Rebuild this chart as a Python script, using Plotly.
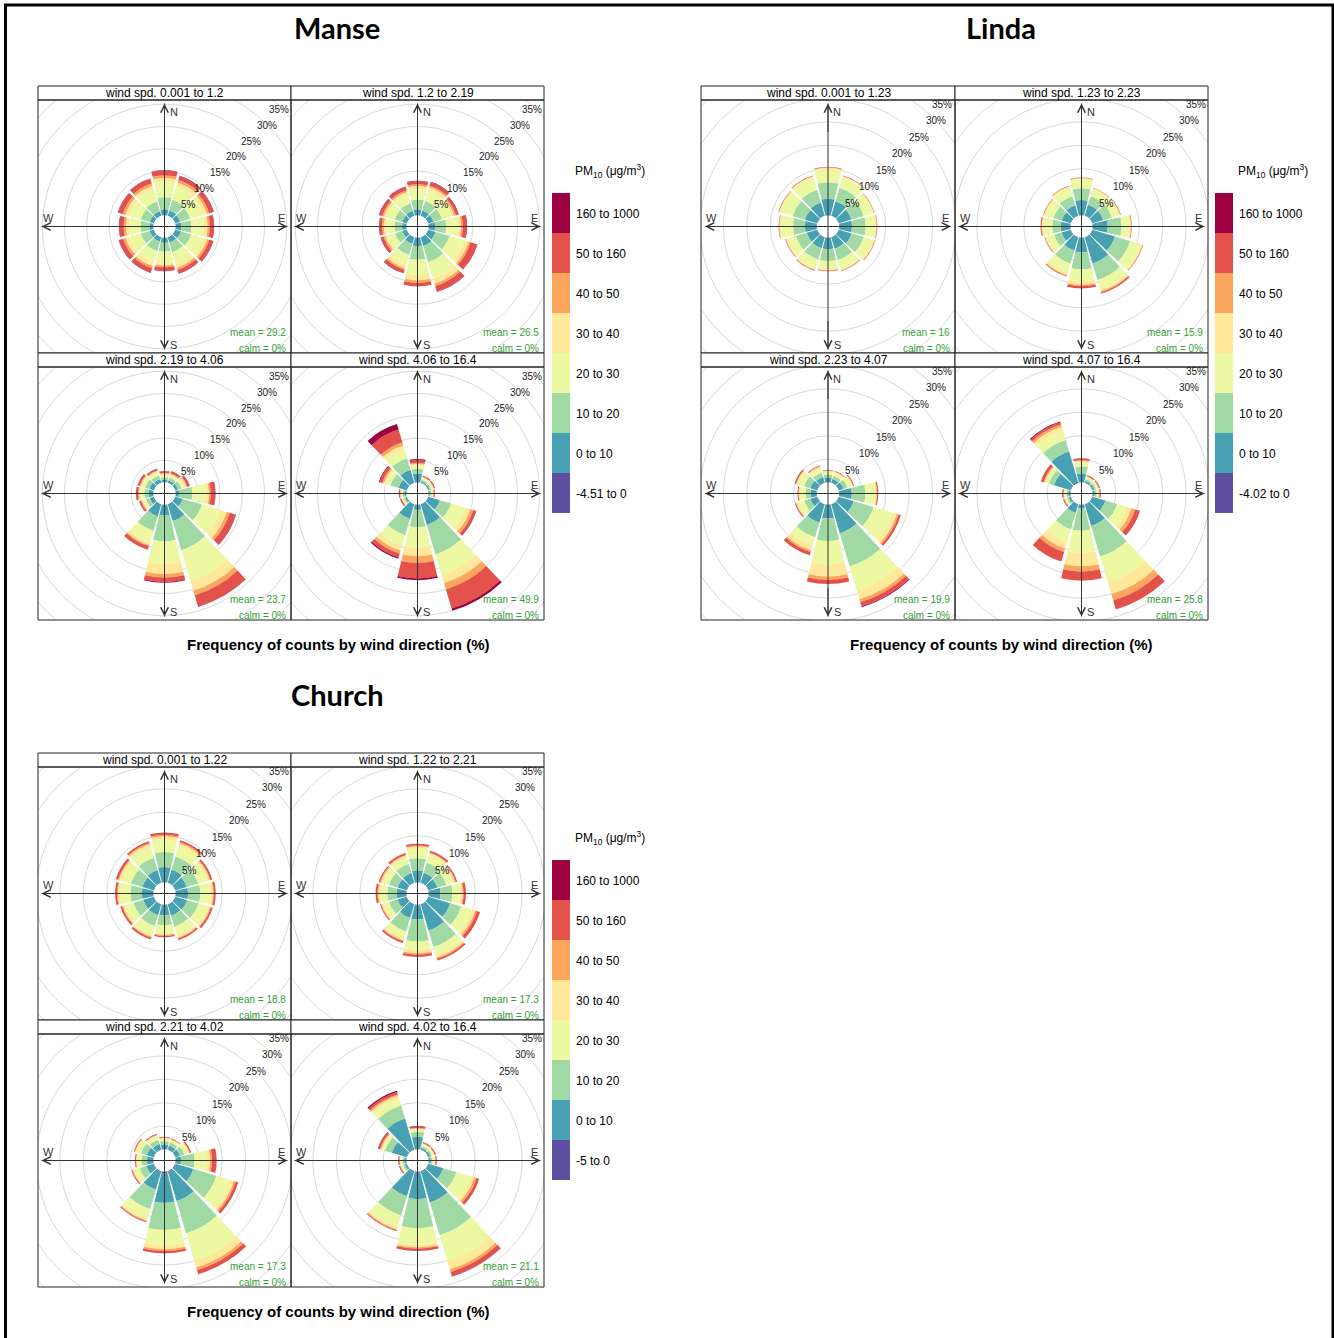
import plotly.graph_objects as go

W, H = 1334, 1338

# ---------------- data ----------------
DIRECTIONS = [0, 30, 60, 90, 120, 150, 180, 210, 240, 270, 300, 330]
BIN_COLORS = ["#5E4FA2", "#48A1B3", "#A1D9A4", "#EDF8A3", "#FEE99A", "#FCA55D", "#E2524A", "#9E0142"]
UPPER_BIN_LABELS = ["0 to 10", "10 to 20", "20 to 30", "30 to 40", "40 to 50", "50 to 160", "160 to 1000"]

# each row = one wind direction (N, 30, 60 ... 330); columns = PM10 bins
# [neg, 0-10, 10-20, 20-30, 30-40, 40-50, 50-160, 160-1000]  (% of counts)
MANSE_1 = [
    [0, 1.4, 2.7, 3.4, 0.9, 0.6, 1.1, 0.1],
    [0, 1.3, 2.5, 3.2, 0.8, 0.6, 0.9, 0.1],
    [0, 1.2, 2.4, 3.0, 0.9, 0.5, 1.0, 0.1],
    [0, 1.3, 2.3, 2.8, 0.8, 0.5, 0.9, 0.1],
    [0, 1.4, 2.4, 2.9, 0.8, 0.5, 0.9, 0.1],
    [0, 1.3, 2.3, 2.8, 0.8, 0.5, 0.8, 0.1],
    [0, 1.2, 2.0, 2.4, 0.7, 0.4, 0.8, 0.1],
    [0, 1.1, 2.2, 2.7, 0.8, 0.5, 1.0, 0.1],
    [0, 1.0, 2.1, 2.7, 0.8, 0.6, 1.0, 0.1],
    [0, 0.9, 2.0, 2.6, 0.7, 0.5, 1.0, 0.1],
    [0, 1.0, 2.1, 2.8, 0.8, 0.6, 1.1, 0.1],
    [0, 1.1, 2.3, 2.8, 0.8, 0.6, 1.1, 0.1],
]
MANSE_2 = [
    [0, 1.4, 2.2, 2.3, 0.7, 0.4, 0.7, 0.1],
    [0, 1.3, 2.2, 2.5, 0.7, 0.4, 0.8, 0.1],
    [0, 1.3, 2.0, 2.2, 0.6, 0.4, 0.6, 0.1],
    [0, 1.5, 2.5, 2.7, 0.6, 0.4, 0.9, 0.1],
    [0, 1.8, 3.2, 3.5, 1.0, 0.5, 1.5, 0.1],
    [0, 2.1, 3.8, 3.9, 1.1, 0.6, 1.3, 0.1],
    [0, 1.9, 3.1, 3.4, 1.2, 0.6, 0.8, 0.0],
    [0, 1.6, 2.6, 2.4, 0.7, 0.4, 0.7, 0.1],
    [0, 1.1, 1.7, 1.8, 0.5, 0.4, 0.6, 0.1],
    [0, 1.0, 1.7, 1.8, 0.6, 0.4, 0.6, 0.1],
    [0, 1.1, 1.8, 1.9, 0.6, 0.4, 0.7, 0.1],
    [0, 1.2, 1.8, 2.0, 0.6, 0.4, 0.8, 0.1],
]
MANSE_3 = [
    [0, 0.6, 0.6, 0.5, 0.3, 0.2, 0.35, 0.05],
    [0, 0.6, 0.6, 0.6, 0.3, 0.2, 0.45, 0.05],
    [0, 0.7, 0.8, 0.8, 0.4, 0.2, 0.55, 0.05],
    [0, 0.8, 3.0, 3.0, 0.7, 0.4, 1.0, 0.1],
    [0, 1.8, 4.5, 4.3, 1.5, 0.7, 1.4, 0.1],
    [0, 4.0, 6.8, 7.2, 2.3, 1.1, 2.6, 0.1],
    [0, 2.5, 5.8, 5.0, 2.3, 0.8, 1.0, 0.2],
    [0, 2.9, 3.4, 2.7, 0.6, 0.3, 0.75, 0.05],
    [0, 1.0, 0.9, 0.7, 0.3, 0.2, 0.35, 0.05],
    [0, 1.1, 1.0, 0.8, 0.4, 0.2, 0.45, 0.05],
    [0, 1.1, 1.0, 0.8, 0.3, 0.2, 0.45, 0.05],
    [0, 0.9, 0.9, 0.7, 0.3, 0.2, 0.35, 0.05],
]
MANSE_4 = [
    [0, 2.0, 1.1, 0.8, 0.25, 0.3, 0.6, 0.25],
    [0.02, 0.35, 0.4, 0.4, 0.2, 0.1, 0.25, 0.05],
    [0.02, 0.35, 0.4, 0.35, 0.2, 0.1, 0.25, 0.05],
    [0.02, 0.3, 0.35, 0.3, 0.15, 0.1, 0.2, 0.05],
    [0.05, 2.75, 2.6, 3.4, 1.1, 0.7, 0.6, 0.1],
    [0.1, 4.8, 6.9, 4.8, 1.9, 1.5, 4.5, 0.5],
    [0.1, 1.1, 3.9, 4.6, 1.9, 1.5, 3.5, 0.4],
    [0.05, 3.45, 3.8, 2.6, 1.0, 0.7, 0.9, 0.3],
    [0.02, 0.4, 0.35, 0.35, 0.15, 0.1, 0.25, 0.05],
    [0.02, 0.45, 0.4, 0.35, 0.15, 0.1, 0.25, 0.05],
    [0, 2.0, 1.9, 1.1, 0.4, 0.4, 0.6, 0.2],
    [0, 3.1, 2.7, 2.2, 0.8, 0.7, 3.0, 1.3],
]

LINDA_1 = [
    [0.1, 3.5, 3.5, 2.9, 0.2, 0.1, 0.1, 0],
    [0.1, 3.2, 3.0, 2.4, 0.15, 0.05, 0.1, 0],
    [0.1, 2.8, 2.7, 2.1, 0.15, 0.05, 0.1, 0],
    [0.1, 2.7, 2.9, 2.1, 0.2, 0.1, 0.1, 0],
    [0.1, 2.8, 2.7, 2.2, 0.2, 0.1, 0.1, 0],
    [0.1, 2.5, 2.5, 2.1, 0.2, 0.1, 0.1, 0],
    [0.1, 2.4, 2.5, 1.8, 0.2, 0.1, 0.1, 0],
    [0.1, 2.4, 2.5, 2.1, 0.2, 0.1, 0.1, 0],
    [0.1, 2.3, 2.4, 2.0, 0.2, 0.1, 0.1, 0],
    [0.1, 2.5, 2.5, 2.7, 0.2, 0.1, 0.1, 0],
    [0.1, 2.7, 2.7, 2.8, 0.2, 0.1, 0.1, 0],
    [0.1, 2.9, 2.8, 2.8, 0.2, 0.1, 0.1, 0],
]
LINDA_2 = [
    [0.1, 3.2, 2.5, 2.0, 0.15, 0.05, 0.1, 0],
    [0.1, 2.4, 1.9, 1.6, 0.15, 0.05, 0.1, 0],
    [0.1, 2.4, 1.9, 1.6, 0.2, 0.1, 0.1, 0],
    [0.1, 3.2, 2.9, 1.8, 0.2, 0.1, 0.1, 0],
    [0.1, 5.0, 3.4, 2.5, 0.2, 0.1, 0.1, 0],
    [0.1, 5.8, 3.7, 2.1, 0.4, 0.2, 0.3, 0],
    [0.1, 3.1, 3.6, 2.5, 0.8, 0.3, 0.5, 0],
    [0.1, 2.9, 2.9, 2.2, 0.4, 0.1, 0.2, 0],
    [0.1, 2.0, 1.7, 1.7, 0.2, 0.1, 0.1, 0],
    [0.1, 2.0, 1.8, 1.9, 0.3, 0.1, 0.2, 0],
    [0.1, 2.0, 1.8, 1.8, 0.3, 0.1, 0.1, 0],
    [0.1, 2.3, 2.0, 2.0, 0.2, 0.1, 0.1, 0],
]
LINDA_3 = [
    [0.1, 0.9, 0.7, 0.6, 0.2, 0.1, 0.1, 0],
    [0.1, 0.8, 0.7, 0.7, 0.2, 0.1, 0.1, 0],
    [0.1, 1.0, 0.9, 1.0, 0.2, 0.1, 0.2, 0],
    [0.05, 2.7, 2.9, 2.1, 0.3, 0.1, 0.25, 0],
    [0.1, 3.3, 4.4, 4.3, 0.9, 0.4, 0.5, 0],
    [0.1, 6.4, 7.4, 5.4, 1.9, 0.7, 0.9, 0.2],
    [0.1, 2.9, 4.8, 5.0, 2.6, 0.7, 0.9, 0],
    [0.1, 4.0, 3.3, 1.8, 1.1, 0.4, 0.7, 0],
    [0.1, 1.5, 1.4, 1.4, 0.3, 0.1, 0.2, 0],
    [0.1, 1.3, 1.1, 1.1, 0.3, 0.1, 0.2, 0],
    [0.1, 1.5, 1.4, 1.4, 0.3, 0.1, 0.3, 0],
    [0.1, 1.2, 1.0, 1.0, 0.3, 0.1, 0.2, 0],
]
LINDA_4 = [
    [0.1, 1.9, 1.4, 0.9, 0.3, 0.2, 0.35, 0.05],
    [0.1, 0.4, 0.4, 0.4, 0.15, 0.1, 0.2, 0.05],
    [0.1, 0.4, 0.4, 0.4, 0.15, 0.1, 0.2, 0.05],
    [0.1, 0.4, 0.4, 0.4, 0.15, 0.1, 0.2, 0.05],
    [0.1, 2.9, 2.6, 2.2, 1.0, 0.8, 1.1, 0],
    [0.1, 4.8, 6.8, 5.8, 2.6, 1.4, 2.0, 0],
    [0.1, 0.8, 4.7, 4.7, 2.9, 1.1, 2.0, 0],
    [0.1, 1.9, 3.6, 2.9, 1.4, 0.8, 2.1, 0],
    [0.1, 0.4, 0.4, 0.4, 0.15, 0.1, 0.2, 0.05],
    [0.1, 0.4, 0.4, 0.4, 0.15, 0.1, 0.2, 0.05],
    [0.1, 3.7, 1.1, 0.7, 0.3, 0.2, 0.6, 0],
    [0.3, 6.7, 2.6, 2.1, 0.8, 0.5, 0.5, 0.2],
]

CHURCH_1 = [
    [0.1, 3.2, 3.2, 2.6, 0.8, 0.3, 0.5, 0],
    [0.1, 2.9, 2.9, 2.3, 0.6, 0.3, 0.4, 0],
    [0.1, 2.5, 2.5, 2.1, 0.5, 0.2, 0.4, 0],
    [0.1, 2.6, 2.6, 2.2, 0.5, 0.2, 0.4, 0],
    [0.1, 2.6, 2.5, 2.1, 0.5, 0.2, 0.4, 0],
    [0.1, 2.5, 2.4, 2.0, 0.5, 0.2, 0.3, 0],
    [0.1, 2.2, 2.1, 1.7, 0.4, 0.2, 0.3, 0],
    [0.1, 2.4, 2.4, 2.0, 0.4, 0.2, 0.4, 0],
    [0.1, 2.3, 2.2, 1.9, 0.4, 0.2, 0.4, 0],
    [0.1, 2.4, 2.4, 2.2, 0.5, 0.2, 0.4, 0],
    [0.1, 2.5, 2.5, 2.2, 0.5, 0.2, 0.5, 0],
    [0.1, 2.8, 2.7, 2.4, 0.6, 0.3, 0.4, 0],
]
CHURCH_2 = [
    [0.1, 2.5, 2.6, 2.0, 0.5, 0.2, 0.4, 0],
    [0.1, 2.2, 2.2, 1.7, 0.4, 0.2, 0.4, 0],
    [0.1, 2.0, 2.0, 1.5, 0.4, 0.2, 0.3, 0],
    [0.1, 2.5, 2.5, 1.7, 0.5, 0.2, 0.5, 0],
    [0.1, 4.8, 2.5, 2.5, 0.6, 0.4, 0.7, 0],
    [0.1, 5.8, 3.7, 1.8, 0.5, 0.3, 0.4, 0],
    [0.2, 3.0, 4.7, 1.8, 0.7, 0.3, 0.5, 0],
    [0.1, 3.0, 3.0, 1.6, 0.4, 0.2, 0.4, 0],
    [0.1, 2.0, 1.9, 1.3, 0.3, 0.2, 0.2, 0],
    [0.1, 2.0, 2.0, 1.5, 0.4, 0.2, 0.4, 0],
    [0.1, 2.0, 1.9, 1.4, 0.4, 0.2, 0.3, 0],
    [0.1, 2.1, 2.0, 1.5, 0.4, 0.2, 0.4, 0],
]
CHURCH_3 = [
    [0.1, 1.0, 0.7, 0.5, 0.15, 0.1, 0.15, 0],
    [0.1, 0.9, 0.7, 0.5, 0.15, 0.1, 0.15, 0],
    [0.1, 1.0, 1.0, 0.8, 0.3, 0.1, 0.3, 0],
    [0.1, 1.1, 2.9, 2.6, 0.7, 0.4, 1.0, 0],
    [0.2, 3.9, 5.1, 3.3, 0.6, 0.4, 0.6, 0],
    [0.2, 6.5, 7.2, 6.2, 1.4, 0.6, 0.9, 0],
    [0.4, 6.3, 5.8, 3.2, 0.9, 0.4, 0.5, 0],
    [0.2, 3.9, 4.4, 2.2, 0.3, 0.2, 0.2, 0],
    [0.1, 1.6, 1.5, 1.3, 0.2, 0.1, 0.2, 0],
    [0.1, 1.3, 1.1, 1.0, 0.2, 0.1, 0.2, 0],
    [0.1, 1.5, 1.3, 1.1, 0.2, 0.1, 0.2, 0],
    [0.1, 1.2, 1.0, 0.8, 0.2, 0.1, 0.2, 0],
]
CHURCH_4 = [
    [0.1, 2.6, 1.1, 0.5, 0.2, 0.1, 0.3, 0.1],
    [0.1, 0.4, 0.4, 0.4, 0.15, 0.1, 0.2, 0.05],
    [0.1, 0.4, 0.4, 0.4, 0.15, 0.1, 0.2, 0.05],
    [0.1, 0.4, 0.4, 0.4, 0.15, 0.1, 0.2, 0.05],
    [0.1, 3.3, 2.9, 3.3, 0.7, 0.5, 0.6, 0],
    [0.2, 6.8, 7.3, 5.8, 1.8, 0.6, 0.9, 0.1],
    [0.3, 5.6, 6.2, 3.6, 0.5, 0.3, 0.5, 0],
    [0.2, 5.4, 4.3, 2.6, 0.5, 0.2, 0.2, 0],
    [0.1, 0.4, 0.4, 0.4, 0.15, 0.1, 0.2, 0.05],
    [0.1, 0.4, 0.4, 0.4, 0.15, 0.1, 0.2, 0.05],
    [0.1, 3.3, 1.5, 0.6, 0.3, 0.2, 0.4, 0.1],
    [0.2, 6.8, 2.9, 1.7, 0.5, 0.3, 0.5, 0.3],
]

MANSE_STRIPS = ["wind spd. 0.001 to 1.2", "wind spd. 1.2 to 2.19", "wind spd. 2.19 to 4.06", "wind spd. 4.06 to 16.4"]
MANSE_MEANS = ["29.2", "26.5", "23.7", "49.9"]
LINDA_STRIPS = ["wind spd. 0.001 to 1.23", "wind spd. 1.23 to 2.23", "wind spd. 2.23 to 4.07", "wind spd. 4.07 to 16.4"]
LINDA_MEANS = ["16", "15.9", "19.9", "25.8"]
CHURCH_STRIPS = ["wind spd. 0.001 to 1.22", "wind spd. 1.22 to 2.21", "wind spd. 2.21 to 4.02", "wind spd. 4.02 to 16.4"]
CHURCH_MEANS = ["18.8", "17.3", "17.3", "21.1"]
CALM = ["0%", "0%", "0%", "0%"]
GRID_PCTS = [5, 10, 15, 20, 25, 30, 35]

# ---------------- layout configuration ----------------
SITES = [
    dict(name="Manse", panels=[MANSE_1, MANSE_2, MANSE_3, MANSE_4], strips=MANSE_STRIPS,
         means=MANSE_MEANS, neg="-4.51 to 0", k=4.45, xs=[38, 291, 544],
         rows=[(86, 100, 353), (353, 367, 620)], leg_x=552, leg_top=193,
         title=(337, 28), caption=(338, 644)),
    dict(name="Linda", panels=[LINDA_1, LINDA_2, LINDA_3, LINDA_4], strips=LINDA_STRIPS,
         means=LINDA_MEANS, neg="-4.02 to 0", k=4.68, xs=[701, 955, 1208],
         rows=[(86, 100, 353), (353, 367, 620)], leg_x=1215, leg_top=193,
         title=(1001, 28), caption=(1001, 644)),
    dict(name="Church", panels=[CHURCH_1, CHURCH_2, CHURCH_3, CHURCH_4], strips=CHURCH_STRIPS,
         means=CHURCH_MEANS, neg="-5 to 0", k=4.68, xs=[38, 291, 544],
         rows=[(753, 767, 1020), (1020, 1034, 1287)], leg_x=552, leg_top=860,
         title=(337, 694), caption=(338, 1311)),
]

R0 = 11.0           # hole radius (px)
FONT = "Liberation Sans, Arial, sans-serif"
AXCOL = "#333333"
GREEN = "#35a035"


def px(x):
    return x / W


def py(y):
    return 1 - y / H


fig = go.Figure()
layout = dict(width=W, height=H, margin=dict(l=0, r=0, t=0, b=0),
              paper_bgcolor="white", plot_bgcolor="white", showlegend=False,
              font=dict(family=FONT, color="black"))
shapes = []
annos = []

idx = 0
for site in SITES:
    k = site["k"]
    for p in range(4):
        idx += 1
        sfx = "" if idx == 1 else str(idx)
        xr, yr = "x" + sfx, "y" + sfx
        row, col = divmod(p, 2)
        x0, x1 = site["xs"][col], site["xs"][col + 1]
        ht, pt, pb = site["rows"][row]
        w, h = x1 - x0, pb - pt

        layout["xaxis" + sfx] = dict(domain=[px(x0), px(x1)], range=[-w / 2, w / 2],
                                     visible=False, fixedrange=True, anchor=yr)
        layout["yaxis" + sfx] = dict(domain=[py(pb), py(pt)], range=[-h / 2, h / 2],
                                     visible=False, fixedrange=True, anchor=xr)
        Rpx = min(w, h) / 2
        layout["polar" + sfx] = dict(
            domain=dict(x=[px(x0), px(x1)], y=[py(pb), py(pt)]),
            hole=R0 / Rpx, bgcolor="rgba(0,0,0,0)", barmode="stack", bargap=0,
            radialaxis=dict(visible=False, range=[0, (Rpx - R0) / k]),
            angularaxis=dict(visible=False, rotation=90, direction="clockwise"))

        # grid circles (clipped to the panel by the cartesian subplot)
        for pct in GRID_PCTS:
            r = R0 + k * pct
            shapes.append(dict(type="circle", xref=xr, yref=yr, x0=-r, x1=r, y0=-r, y1=r,
                               line=dict(color="#d9d9d9", width=1), layer="below"))
        fig.add_trace(go.Scatter(x=[0], y=[0], mode="markers", marker=dict(size=1, opacity=0),
                                 xaxis=xr, yaxis=yr, hoverinfo="skip", showlegend=False))

        # stacked bars
        data = site["panels"][p]
        for b in range(8):
            fig.add_trace(go.Barpolar(
                r=[d[b] for d in data], theta=DIRECTIONS, width=[27] * 12,
                marker=dict(color=BIN_COLORS[b], line=dict(width=0)),
                subplot="polar" + sfx, hoverinfo="skip", showlegend=False))

        # compass axes
        L = 123
        shapes.append(dict(type="line", xref=xr, yref=yr, x0=0, x1=0, y0=-L, y1=L,
                           line=dict(color=AXCOL, width=1), layer="above"))
        shapes.append(dict(type="line", xref=xr, yref=yr, x0=-L, x1=L, y0=0, y1=0,
                           line=dict(color=AXCOL, width=1), layer="above"))
        for (tx, ty, sx, sy) in [(0, L, 0, L - 30), (0, -L, 0, -L + 30),
                                 (L, 0, L - 30, 0), (-L, 0, -L + 30, 0)]:
            annos.append(dict(xref=xr, yref=yr, axref=xr, ayref=yr, x=tx, y=ty, ax=sx, ay=sy,
                              text="", showarrow=True, arrowhead=5, arrowsize=1.5,
                              arrowwidth=1, arrowcolor=AXCOL, standoff=0))
        for (lbl, lx, ly) in [("N", 9.3, 114.3), ("S", 9.3, -118.3), ("W", -116, 8.4), ("E", 117.3, 8.4)]:
            annos.append(dict(xref=xr, yref=yr, x=lx, y=ly, text=lbl, showarrow=False,
                              font=dict(size=11, color=AXCOL, family=FONT)))

        # percentage labels
        for pct in GRID_PCTS:
            rl = (R0 + k * pct) * 0.7071
            xpos = rl + 0.5
            if xpos + 9 > w / 2:
                annos.append(dict(xref=xr, yref=yr, x=w / 2 - 0.5, y=rl - 1.2, text=f"{pct}%",
                                  xanchor="right", showarrow=False,
                                  font=dict(size=10, color="#222", family=FONT)))
            else:
                annos.append(dict(xref=xr, yref=yr, x=xpos, y=rl - 1.2, text=f"{pct}%",
                                  showarrow=False, font=dict(size=10, color="#222", family=FONT)))

        # strip header and frames
        shapes.append(dict(type="rect", xref="paper", yref="paper", x0=px(x0), x1=px(x1),
                           y0=py(pt), y1=py(ht), line=dict(color="#222", width=1),
                           fillcolor="white", layer="above"))
        shapes.append(dict(type="rect", xref="paper", yref="paper", x0=px(x0), x1=px(x1),
                           y0=py(pb), y1=py(pt), line=dict(color="#222", width=1), layer="above"))
        annos.append(dict(xref="paper", yref="paper", x=px((x0 + x1) / 2), y=py((ht + pt) / 2),
                          text=site["strips"][p], showarrow=False, xanchor="center", yanchor="middle",
                          font=dict(size=12, color="black", family=FONT)))

        # mean / calm
        annos.append(dict(xref="paper", yref="paper", x=px(x1 - 3), y=py(pb - 20.7),
                          text="mean = " + site["means"][p], showarrow=False,
                          xanchor="right", yanchor="middle",
                          font=dict(size=10, color=GREEN, family=FONT)))
        annos.append(dict(xref="paper", yref="paper", x=px(x1 - 3), y=py(pb - 4.8),
                          text="calm = " + CALM[p], showarrow=False,
                          xanchor="right", yanchor="middle",
                          font=dict(size=10, color=GREEN, family=FONT)))

    # legend
    labels = [site["neg"]] + UPPER_BIN_LABELS
    lx, lt = site["leg_x"], site["leg_top"]
    for i in range(8):
        b = 7 - i
        shapes.append(dict(type="rect", xref="paper", yref="paper", x0=px(lx), x1=px(lx + 18),
                           y0=py(lt + 40 * (i + 1)), y1=py(lt + 40 * i),
                           fillcolor=BIN_COLORS[b], line=dict(width=0), layer="above"))
        annos.append(dict(xref="paper", yref="paper", x=px(lx + 22), y=py(lt + 40 * i + 21),
                          text=labels[b], showarrow=False, xanchor="left", yanchor="middle",
                          font=dict(size=12, color="black", family=FONT)))
    annos.append(dict(xref="paper", yref="paper", x=px(lx + 21), y=py(lt - 22),
                      text="PM<sub>10</sub> (\u03bcg/m<sup>3</sup>)", showarrow=False,
                      xanchor="left", yanchor="middle",
                      font=dict(size=12, color="black", family=FONT)))

    # titles / captions
    annos.append(dict(xref="paper", yref="paper", x=px(site["title"][0]), y=py(site["title"][1]),
                      text="<b>" + site["name"] + "</b>", showarrow=False,
                      xanchor="center", yanchor="middle",
                      font=dict(size=29, color="black", family="Lato, Open Sans, sans-serif")))
    annos.append(dict(xref="paper", yref="paper", x=px(site["caption"][0]), y=py(site["caption"][1]),
                      text="<b>Frequency of counts by wind direction (%)</b>", showarrow=False,
                      xanchor="center", yanchor="middle",
                      font=dict(size=15, color="black", family=FONT)))

# outer frame
shapes.append(dict(type="rect", xref="paper", yref="paper", x0=px(5.5), x1=px(1333),
                   y0=py(1345), y1=py(5), line=dict(color="black", width=3), layer="above"))

layout["shapes"] = shapes
layout["annotations"] = annos
fig.update_layout(**layout)
fig.write_html("out.html", config=dict(displayModeBar=False, staticPlot=True),
               post_script="document.body.style.margin='0';document.body.style.overflow='hidden';")
